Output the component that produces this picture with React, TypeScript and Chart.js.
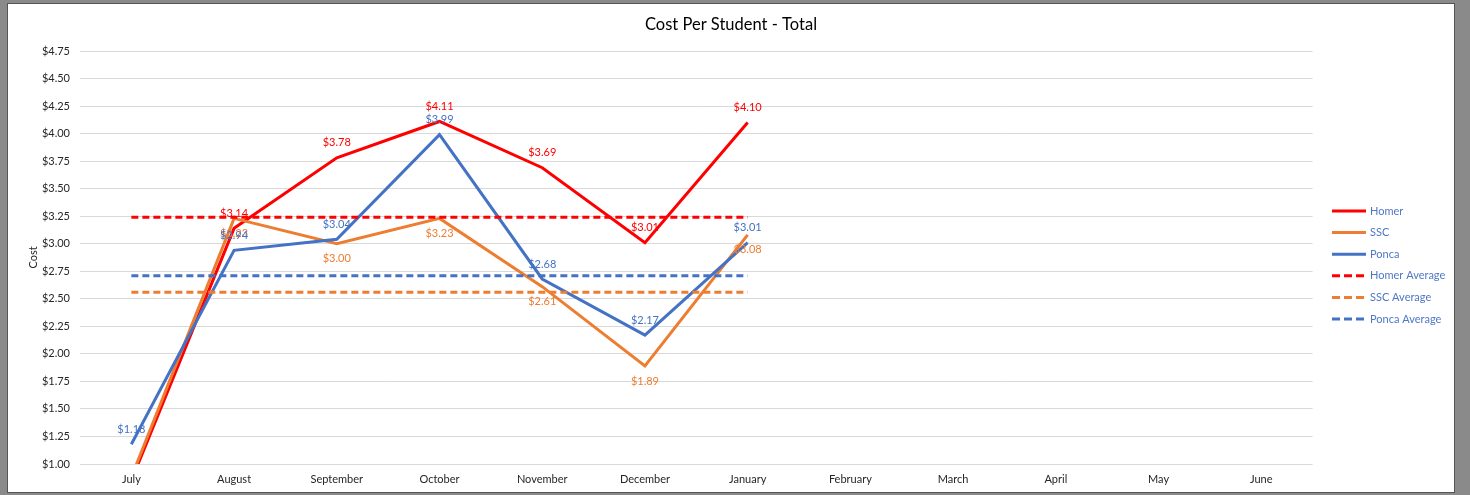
import React, { useEffect, useRef } from "react";
import { Chart, registerables } from "chart.js";

Chart.register(...registerables);

const chartTitle = "Cost Per Student - Total";
const months = ["July", "August", "September", "October", "November", "December", "January", "February", "March", "April", "May", "June"];
const homer = [0.85, 3.14, 3.78, 4.11, 3.69, 3.01, 4.10];
const ssc = [0.88, 3.23, 3.00, 3.23, 2.61, 1.89, 3.08];
const ponca = [1.18, 2.94, 3.04, 3.99, 2.68, 2.17, 3.01];
const homerAverage = [3.24, 3.24, 3.24, 3.24, 3.24, 3.24, 3.24];
const sscAverage = [2.56, 2.56, 2.56, 2.56, 2.56, 2.56, 2.56];
const poncaAverage = [2.71, 2.71, 2.71, 2.71, 2.71, 2.71, 2.71];
const yMin = 1.0;
const yMax = 4.75;
const yStep = 0.25;

const RED = "#FF0000";
const ORANGE = "#ED7D31";
const BLUE = "#4472C4";
const FONT = "Lato, 'Noto Sans', sans-serif";

const labelSide: Record<string, number> = { Homer: -1, SSC: 1, Ponca: -1 };

const titlePlugin = {
  id: "centerTitle",
  afterDraw(chart: any) {
    const ctx = chart.ctx;
    ctx.save();
    ctx.font = `16.5px ${FONT}`;
    ctx.fillStyle = "#000000";
    ctx.textAlign = "center";
    ctx.textBaseline = "middle";
    ctx.fillText(chartTitle, 723, 21);
    ctx.restore();
  },
};

const dataLabelPlugin = {
  id: "dataLabels",
  afterDatasetsDraw(chart: any) {
    const ctx = chart.ctx;
    const area = chart.chartArea;
    ctx.save();
    ctx.font = `11px ${FONT}`;
    ctx.textAlign = "center";
    ctx.textBaseline = "middle";
    chart.data.datasets.forEach((ds: any, i: number) => {
      const side = labelSide[ds.label];
      if (side === undefined) return;
      const meta = chart.getDatasetMeta(i);
      ctx.fillStyle = ds.borderColor;
      meta.data.forEach((pt: any, j: number) => {
        const v = ds.data[j];
        if (v == null || v < yMin || v > yMax) return;
        const y = pt.y + side * 15;
        if (y < area.top - 10 || y > area.bottom) return;
        ctx.fillText("$" + v.toFixed(2), pt.x, y);
      });
    });
    ctx.restore();
  },
};

const legendPlugin = {
  id: "sideLegend",
  afterDraw(chart: any) {
    const ctx = chart.ctx;
    ctx.save();
    ctx.font = `11px ${FONT}`;
    ctx.textAlign = "left";
    ctx.textBaseline = "middle";
    const x0 = 1324;
    const x1 = 1358;
    const yStart = 207;
    const gap = 21.6;
    chart.data.datasets.forEach((ds: any, i: number) => {
      const y = yStart + i * gap;
      ctx.strokeStyle = ds.borderColor;
      ctx.lineWidth = 3;
      ctx.setLineDash(ds.borderDash && ds.borderDash.length ? [8, 4] : []);
      ctx.beginPath();
      ctx.moveTo(x0, y);
      ctx.lineTo(x1, y);
      ctx.stroke();
      ctx.setLineDash([]);
      ctx.fillStyle = "#4F77C5";
      ctx.fillText(ds.label, x1 + 4, y);
    });
    ctx.restore();
  },
};

export default function App() {
  const canvasRef = useRef<HTMLCanvasElement | null>(null);

  useEffect(() => {
    if (!canvasRef.current) return;
    const mk = (label: string, data: number[], color: string, dashed: boolean, order: number) => ({
      label,
      data,
      borderColor: color,
      backgroundColor: color,
      borderWidth: 3,
      borderDash: dashed ? [7, 4] : [],
      pointRadius: 0,
      pointHoverRadius: 0,
      tension: 0,
      fill: false,
      clip: 0,
      order,
    });
    const chart = new Chart(canvasRef.current, {
      type: "line",
      data: {
        labels: months,
        datasets: [
          mk("Homer", homer, RED, false, 6),
          mk("SSC", ssc, ORANGE, false, 5),
          mk("Ponca", ponca, BLUE, false, 4),
          mk("Homer Average", homerAverage, RED, true, 3),
          mk("SSC Average", sscAverage, ORANGE, true, 2),
          mk("Ponca Average", poncaAverage, BLUE, true, 1),
        ],
      },
      options: {
        animation: false,
        responsive: false,
        maintainAspectRatio: false,
        layout: { padding: { top: 47, right: 141.4, bottom: 0, left: 0 } },
        plugins: {
          legend: { display: false },
          tooltip: { enabled: false },
          title: { display: false },
        },
        scales: {
          x: {
            offset: true,
            grid: { display: false, drawTicks: false, offset: true },
            border: { display: false },
            ticks: { color: "#262626", font: { family: FONT, size: 11 }, padding: 9, maxRotation: 0, autoSkip: false },
            afterFit: (s: any) => { s.height = 28; },
          },
          y: {
            min: yMin,
            max: yMax,
            grid: { color: "#D9D9D9", lineWidth: 1, drawTicks: false },
            border: { display: false },
            ticks: {
              stepSize: yStep,
              color: "#262626",
              font: { family: FONT, size: 11 },
              padding: 10,
              callback: (v: any) => "$" + Number(v).toFixed(2),
            },
            title: {
              display: true,
              text: "Cost",
              color: "#262626",
              font: { family: FONT, size: 11 },
              padding: { top: 18.4, bottom: 0 },
            },
            afterFit: (s: any) => { s.width = 72; },
          },
        },
      },
      plugins: [dataLabelPlugin, legendPlugin, titlePlugin],
    });
    return () => chart.destroy();
  }, []);

  return (
    <div style={{ position: "fixed", left: 0, top: 0, width: 1470, height: 495, background: "#8A8A8A" }}>
      <div
        style={{
          position: "absolute",
          left: 7,
          top: 3,
          width: 1446,
          height: 488,
          border: "1px solid #555555",
          background: "#FFFFFF",
        }}
      >
        <canvas ref={canvasRef} width={1446} height={488} style={{ display: "block", width: 1446, height: 488 }} />
      </div>
    </div>
  );
}
